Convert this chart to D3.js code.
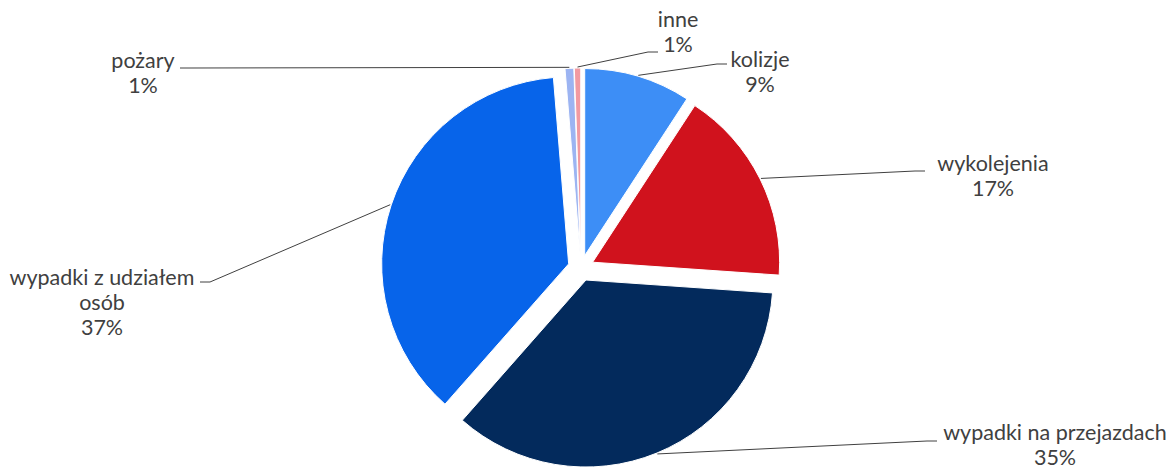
<!DOCTYPE html>
<html>
<head>
<meta charset="utf-8">
<script src="https://cdn.jsdelivr.net/npm/d3@7"></script>
<style>
  html, body { margin: 0; padding: 0; background: #ffffff; }
  svg { display: block; }
  text { font-family: Lato, "Open Sans", sans-serif; fill: #404040; }
</style>
</head>
<body>
<svg id="chart" width="1173" height="468"></svg>
<script>
// Railway incident categories and their share of all events (percent)
const categories = ["kolizje", "wykolejenia", "wypadki na przejazdach", "wypadki z udziałem osób", "pożary", "inne"];
const values = [9.2, 16.9, 35.4, 37.2, 0.75, 0.55];
// How each category name is broken over lines in its label
const nameLines = [["kolizje"], ["wykolejenia"], ["wypadki na przejazdach"], ["wypadki z udziałem", "osób"], ["pożary"], ["inne"]];
const colors = ["#3d8ef6", "#d0121d", "#032a5c", "#0764ea", "#9cb4f2", "#f29aa1"];

// Layout: pie geometry and where each label sits (centre of first line, leader end)
const W = 1173, H = 468;
const cx = 581, cy = 268, radius = 187, explode = 13;
const fontSize = 21.5, lineGap = 25;
const labelLayout = [
  { x: 760,  y: 59,  ex: 727, ey: 64 },
  { x: 993,  y: 163, ex: 925, ey: 171 },
  { x: 1055, y: 432, ex: 937, ey: 441 },
  { x: 102,  y: 277, ex: 200, ey: 282 },
  { x: 143,  y: 60,  ex: 180, ey: 68 },
  { x: 678,  y: 19,  ex: 658, ey: 52 }
];

const svg = d3.select("#chart");
const total = d3.sum(values);
const pct = v => Math.round(v / total * 100) + "%";

const data = categories.map((c, i) => ({ name: c, value: values[i], color: colors[i], lines: nameLines[i], layout: labelLayout[i] }));

const pie = d3.pie().sort(null).value(d => d.value).startAngle(0).endAngle(2 * Math.PI);
const arc = d3.arc().innerRadius(0).outerRadius(radius);
const arcs = pie(data);

const mid = a => (a.startAngle + a.endAngle) / 2;
const offset = (a, dist) => [Math.sin(mid(a)) * dist, -Math.cos(mid(a)) * dist];

const g = svg.append("g").attr("transform", `translate(${cx},${cy})`);

// Exploded slices
g.selectAll("path.slice")
  .data(arcs)
  .join("path")
  .attr("class", "slice")
  .attr("transform", a => { const o = offset(a, explode); return `translate(${o[0]},${o[1]})`; })
  .attr("d", arc)
  .attr("fill", a => a.data.color)
  .attr("stroke", "#ffffff")
  .attr("stroke-width", 1);

// Leader lines: from the rim at the slice's mid angle to the label, with a short horizontal elbow
const line = d3.line();
svg.selectAll("path.leader")
  .data(arcs)
  .join("path")
  .attr("class", "leader")
  .attr("fill", "none")
  .attr("stroke", "#404040")
  .attr("stroke-width", 1)
  .attr("d", a => {
    const o = offset(a, explode);
    const r = offset(a, radius + 1);
    const start = [cx + o[0] + r[0], cy + o[1] + r[1]];
    const L = a.data.layout;
    const dir = L.ex > start[0] ? -1 : 1;
    return line([start, [L.ex + dir * 10, L.ey], [L.ex, L.ey]]);
  });

// Labels: category name followed by percentage
const labels = svg.selectAll("text.label")
  .data(arcs)
  .join("text")
  .attr("class", "label")
  .attr("text-anchor", "middle")
  .style("font-size", fontSize + "px");

labels.each(function (a) {
  const t = d3.select(this);
  const L = a.data.layout;
  const rows = a.data.lines.concat([pct(a.data.value)]);
  rows.forEach((s, k) => {
    t.append("tspan")
      .attr("x", L.x)
      .attr("y", L.y + k * lineGap)
      .attr("dy", "0.35em")
      .text(s);
  });
});
</script>
</body>
</html>
